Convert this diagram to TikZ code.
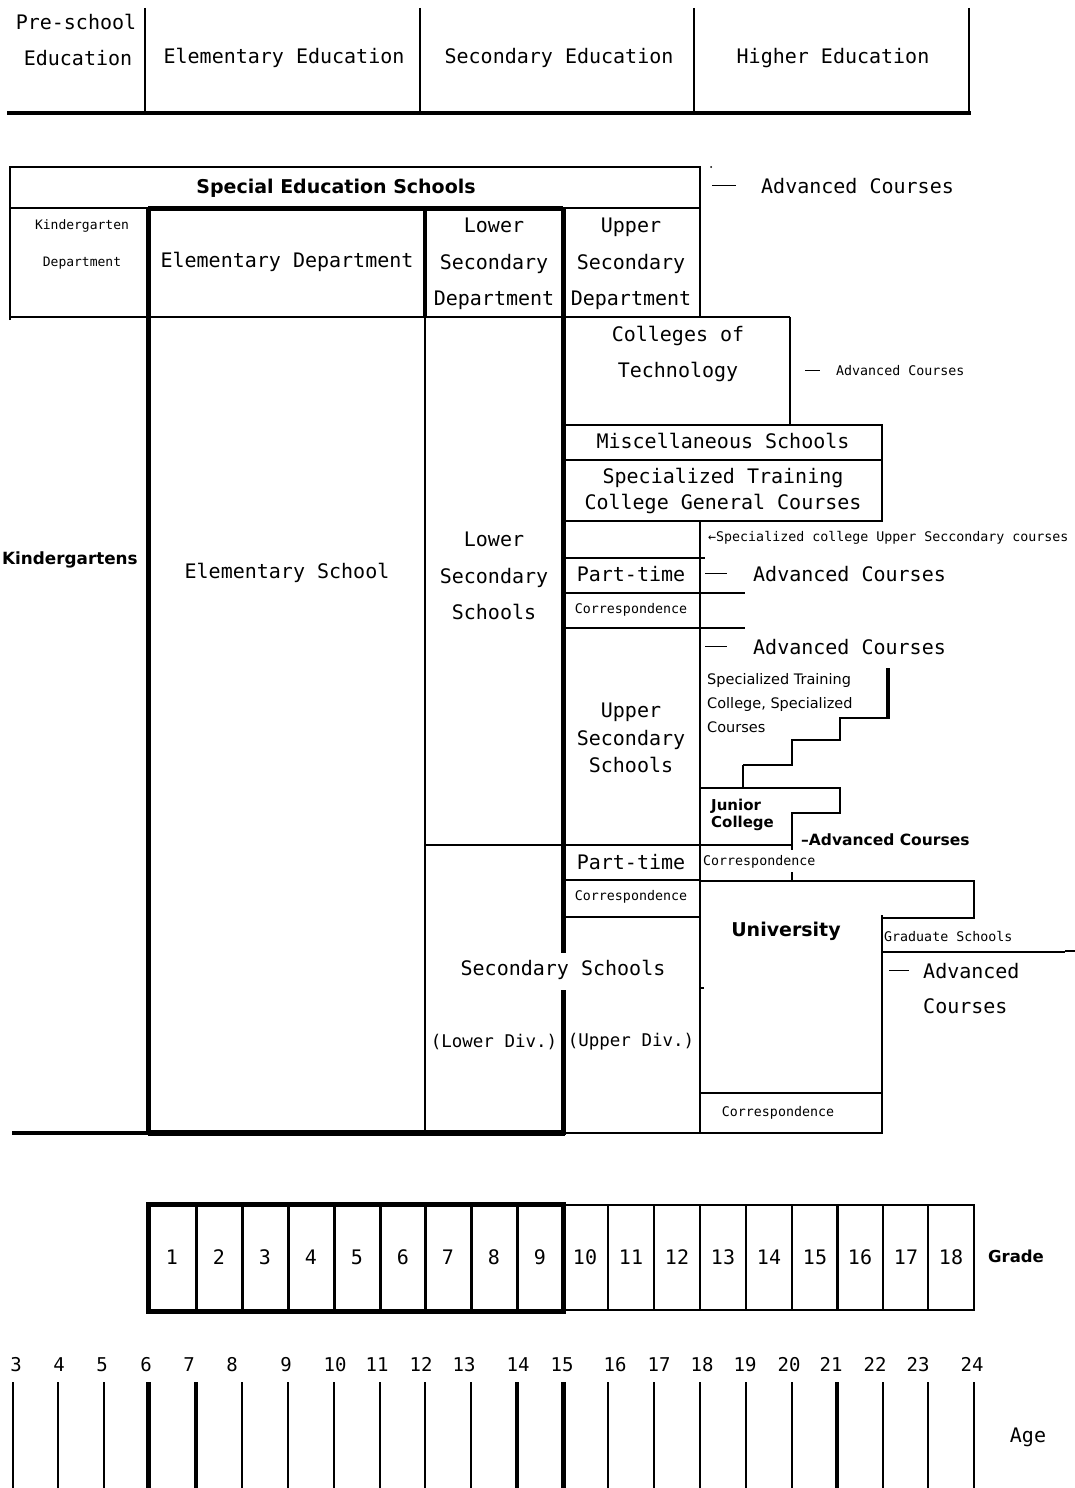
\documentclass[tikz,border=0pt]{standalone}
\usepackage{fontspec}
\newfontfamily\gm{DejaVu Sans Mono}
\newfontfamily\dsans{DejaVu Sans}
\newcommand\fz[2]{\fontsize{#1pt}{#2pt}\selectfont}
\newcommand\dl[2]{\rule[#2pt]{#1pt}{1.6pt}}
\begin{document}
\begin{tikzpicture}[x=1pt,y=-1pt,
  lthin/.style={line width=1.3pt},
  lmed/.style={line width=2.6pt},
  lthick/.style={line width=5pt},
  tm/.style={font=\gm\fz{20}{24},inner sep=0pt},
  tml/.style={font=\gm\fz{20}{36.5},inner sep=0pt,align=center},
  ts/.style={font=\gm\fz{13.3}{16},inner sep=0pt},
  tb/.style={font=\dsans\bfseries\fz{19}{23},inner sep=0pt}]
\useasboundingbox (0,0) rectangle (1075,1488);
\fill[white] (0,0) rectangle (1075,1488);

% ---------- header ----------
\foreach \x in {145,420,694,969} \draw[line width=2.2pt] (\x,8)--(\x,113);
\draw[line width=3.5pt] (7,113)--(971,113);
\node[tm] (h1a) at (76,22) {Pre-school};
\node[tm] (h1b) at (78,58) {Education};
\node[tm] (h2) at (284,58) {Elementary Education};
\node[tm] (h3) at (559,58) {Secondary Education};
\node[tm] (h4) at (833,58) {Higher Education};

% ---------- special education ----------
\draw[lthin] (10,320)--(10,167)--(700,167)--(700,317);
\draw[lthin] (10,208)--(700,208);
\draw[lthick] (148,208)--(563,208);
\draw[lmed] (10,317)--(790,317);
\fill (711,167) circle (1pt);
\node[tb] (ses) at (336,188) {Special Education Schools};
\node[font=\gm\fz{13}{37},inner sep=0pt,align=center] (kd) at (82,244) {Kindergarten\\Department};
\node[tm] (edp) at (287,262) {Elementary Department};
\node[tml] (lsd) at (494,264) {Lower\\Secondary\\Department};
\node[tml] (usd) at (631,264) {Upper\\Secondary\\Department};
\node[tm,anchor=west] (adv1) at (712,186) {\dl{24}{7}\hspace{25pt}Advanced Courses};

% ---------- main columns ----------
\draw[lthick] (148,208)--(148,1135);
\draw[line width=3.4pt] (425,208)--(425,317);
\draw[line width=2.8pt] (425,317)--(425,845);
\draw[line width=2pt] (425,845)--(425,1133);
\draw[lthick] (563,208)--(563,953);
\draw[lthick] (563,990)--(563,1135);
\node[font=\dsans\bfseries\fz{16.8}{20},inner sep=0pt,anchor=west] (kg) at (2,560) {Kindergartens};
\node[tm] (es) at (287,573) {Elementary School};
\node[tml] (lss) at (494,576) {Lower\\Secondary\\Schools};

% colleges of technology and misc
\draw[lmed] (790,317)--(790,425);
\draw[lmed] (563,425)--(882,425)--(882,521)--(563,521);
\draw[lmed] (563,460)--(882,460);
\node[font=\gm\fz{20}{36},inner sep=0pt,align=center] (cot) at (678,354) {Colleges of\\Technology};
\node[ts,anchor=west] (adv2) at (805,371) {\dl{15}{4.5}\hspace{16pt}Advanced Courses};
\node[tm] (misc) at (723,441) {Miscellaneous Schools};
\node[font=\gm\fz{20}{26},inner sep=0pt,align=center] (stc) at (723,491) {Specialized Training\\College General Courses};

% upper secondary column
\draw[lmed] (700,521)--(700,1133);
\draw[lmed] (563,558)--(705,558);
\draw[lmed] (563,593)--(745,593);
\draw[lmed] (563,628)--(745,628);
\node[ts,anchor=west] (arr) at (708,538) {←Specialized college Upper Seccondary courses};
\node[tm] (pt1) at (631,574) {Part-time};
\node[tm,anchor=west] (adv3) at (705,574) {\dl{22}{7}\hspace{26pt}Advanced Courses};
\node[ts] (cr1) at (631,610) {Correspondence};
\node[tm,anchor=west] (adv4) at (705,647) {\dl{22}{7}\hspace{26pt}Advanced Courses};
\node[font=\gm\fz{20}{27.5},inner sep=0pt,align=center] (uss) at (631,738) {Upper\\Secondary\\Schools};
\node[font=\dsans\fz{14.5}{24},inner sep=0pt,align=left,anchor=north west] (stsc) at (707,673) {Specialized Training\\College, Specialized\\Courses};

% staircase and junior college
\draw[line width=3.5pt] (888,668)--(888,719);
\draw[lmed] (889,718)--(840,718)--(840,740)--(792,740)--(792,765)--(743,765);
\draw[lthin] (743,765)--(743,788);
\draw[lmed] (700,788)--(840,788)--(840,813)--(792,813)--(792,850);
\draw[lthin] (700,845)--(792,845);
\draw[lmed] (425,845)--(700,845);
\draw[lmed] (792,872)--(792,882);
\node[font=\dsans\bfseries\fz{15}{17},inner sep=0pt,align=left,anchor=west] (jc) at (711,815) {Junior\\College};
\node[font=\dsans\bfseries\fz{15.5}{18},inner sep=0pt,anchor=west] (adv5) at (801,840) {–Advanced Courses};

% part-time / correspondence (lower)
\draw[lmed] (563,880)--(700,880);
\draw[lmed] (563,917)--(700,917);
\node[tm] (pt2) at (631,862) {Part-time};
\node[ts,anchor=west] (cr2) at (703,862) {Correspondence};
\node[ts] (cr3) at (631,897) {Correspondence};

% university
\draw[lmed] (700,881)--(974,881)--(974,918)--(882,918);
\draw[lmed] (882,915)--(882,1133);
\draw[lmed] (882,952)--(1065,952);
\draw[lthin] (1065,951)--(1075,951);
\draw[lthin] (700,988)--(704,988);
\draw[lthin] (700,1093)--(882,1093);
\node[tb] (uni) at (786,931) {University};
\node[ts,anchor=west] (grad) at (884,936) {Graduate Schools};
\node[tm,anchor=west] (adv6) at (889,971) {\dl{20}{7}\hspace{14pt}Advanced};
\node[tm,anchor=west] (adv6b) at (923,1006) {Courses};
\node[ts] (cr4) at (778,1113) {Correspondence};

% secondary schools
\node[tm] (ss) at (563,970) {Secondary Schools};
\node[font=\gm\fz{17.5}{20},inner sep=0pt] (ld) at (494,1042) {(Lower Div.)};
\node[font=\gm\fz{17.5}{20},inner sep=0pt] (ud) at (631,1042) {(Upper Div.)};

% bottom line
\draw[line width=4pt] (12,1133)--(148,1133);
\draw[line width=6pt] (148,1133)--(565,1133);
\draw[lmed] (563,1133)--(883,1133);

% ---------- grade row ----------
\draw[line width=2.2pt] (563,1205)--(974,1205)--(974,1310)--(563,1310);
\foreach \x in {608,654,700,746,792,883,928} \draw[line width=2.2pt] (\x,1205)--(\x,1310);
\draw[line width=3pt] (837,1205)--(837,1310);
\draw[line width=5pt] (148,1204) rectangle (563,1311);
\foreach \x in {196,242,288,334,380,425,471,517} \draw[line width=3pt] (\x,1204)--(\x,1311);
\foreach \n/\x in {1/172,2/219,3/265,4/311,5/357,6/403,7/448,8/494,9/540,10/585,11/631,12/677,13/723,14/769,15/815,16/860,17/906,18/951}
  \node[tm] (g\n) at (\x,1257) {\n};
\node[font=\dsans\bfseries\fz{16.5}{20},inner sep=0pt] (grade) at (1016,1256) {Grade};

% ---------- age row ----------
\foreach \a/\x/\lx/\w in {3/13/16/2.2,4/58/59/2.2,5/104/102/2.2,6/148/146/5,7/196/189/4,8/242/232/2.2,9/288/286/2.2,10/334/335/2.2,11/380/377/2.2,12/425/421/2.2,13/471/464/2.2,14/517/518/3.5,15/563/562/5,16/608/615/2.2,17/654/659/2.2,18/700/702/2.2,19/746/745/2.2,20/792/789/2.2,21/837/831/3.5,22/883/875/2.2,23/928/918/2.2,24/974/972/2.2}{
  \node[font=\gm\fz{19}{22},inner sep=0pt,anchor=base] (a\a) at (\lx,1371) {\a};
  \draw[line width=\w pt] (\x,1382)--(\x,1488);
}
\node[tm] (age) at (1028,1437) {Age};
\end{tikzpicture}
\end{document}
